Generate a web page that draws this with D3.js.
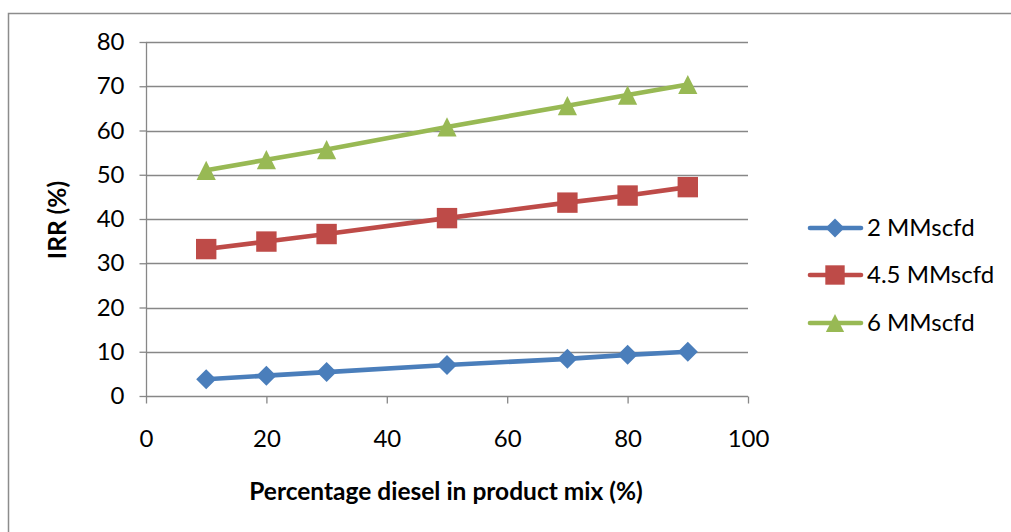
<!DOCTYPE html>
<html>
<head>
<meta charset="utf-8">
<script src="https://cdn.jsdelivr.net/npm/d3@7"></script>
<style>
  html, body { margin: 0; padding: 0; background: #fff; }
  svg { display: block; }
  text { font-family: Lato, "Open Sans", sans-serif; fill: #000; }
</style>
</head>
<body>
<svg id="chart" width="1011" height="532"></svg>
<script>
// Diesel share in product mix (%)
const dieselShare = [10, 20, 30, 50, 70, 80, 90];
// IRR (%) for each gas feed rate
const irr2 = [3.8, 4.6, 5.4, 7.0, 8.4, 9.3, 10.0];
const irr45 = [33.2, 34.9, 36.6, 40.2, 43.7, 45.3, 47.2];
const irr6 = [51.0, 53.4, 55.7, 60.8, 65.6, 68.0, 70.4];
const seriesNames = ["2 MMscfd", "4.5 MMscfd", "6 MMscfd"];
const xTicks = [0, 20, 40, 60, 80, 100];
const yTicks = [0, 10, 20, 30, 40, 50, 60, 70, 80];

// marker shapes: diamond (rotated square), square, isosceles triangle
const diamond = r => `M0,${-r}L${r},0L0,${r}L${-r},0Z`;
const square = r => `M${-r},${-r}H${r}V${r}H${-r}Z`;
const triangle = r => `M0,${-r}L${r},${r}H${-r}Z`;

const series = [
  { name: seriesNames[0], values: irr2, color: "#4a7ebb", shape: diamond, r: 10 },
  { name: seriesNames[1], values: irr45, color: "#be4b48", shape: square, r: 10.2 },
  { name: seriesNames[2], values: irr6, color: "#98b954", shape: triangle, r: 9.6 }
];

const svg = d3.select("#chart");
const plot = { left: 146, right: 748, top: 42, bottom: 396 };

const x = d3.scaleLinear().domain([0, 100]).range([plot.left, plot.right]);
const y = d3.scaleLinear().domain([0, 80]).range([plot.bottom, plot.top]);

// chart frame
svg.append("path")
  .attr("d", "M8.5,540 V13.5 H1020")
  .attr("fill", "none")
  .attr("stroke", "#8c8c8c")
  .attr("stroke-width", 1.5);

// horizontal gridlines
svg.append("g")
  .selectAll("line")
  .data(yTicks.filter(v => v > 0))
  .join("line")
  .attr("x1", plot.left).attr("x2", plot.right)
  .attr("y1", d => Math.round(y(d)) + 0.5)
  .attr("y2", d => Math.round(y(d)) + 0.5)
  .attr("stroke", "#878787")
  .attr("stroke-width", 1.3);

// axes
const yAxis = d3.axisLeft(y).tickValues(yTicks).tickSize(7).tickPadding(15);
const xAxis = d3.axisBottom(x).tickValues(xTicks).tickSize(7).tickPadding(26);

const gy = svg.append("g").attr("transform", `translate(${plot.left + 0.5},0)`).call(yAxis);
const gx = svg.append("g").attr("transform", `translate(0,${plot.bottom + 0.5})`).call(xAxis);

[gx, gy].forEach(g => {
  g.select(".domain").attr("stroke", "#878787").attr("stroke-width", 1.3);
  g.selectAll(".tick line").attr("stroke", "#878787").attr("stroke-width", 1.3);
  g.selectAll(".tick text")
    .attr("font-family", "Lato, 'Open Sans', sans-serif")
    .attr("font-size", 24)
    .attr("fill", "#000");
});
gy.select(".domain").attr("d", `M0,${plot.top}V${plot.bottom}`);
gx.select(".domain").attr("d", `M${plot.left},0H${plot.right}`);

// axis titles
svg.append("text")
  .attr("x", 446).attr("y", 500)
  .attr("text-anchor", "middle")
  .attr("font-size", 24.5)
  .attr("font-weight", "bold")
  .text("Percentage diesel in product mix (%)");

svg.append("text")
  .attr("transform", "translate(66,220) rotate(-90)")
  .attr("text-anchor", "middle")
  .attr("font-size", 24.5)
  .attr("font-weight", "bold")
  .text("IRR (%)");

// series lines and markers
const line = d3.line()
  .x((d, i) => x(dieselShare[i]))
  .y(d => y(d));

series.forEach(s => {
  svg.append("path")
    .datum(s.values)
    .attr("d", line)
    .attr("fill", "none")
    .attr("stroke", s.color)
    .attr("stroke-width", 4.6)
    .attr("stroke-linejoin", "round");
});

series.forEach(s => {
  svg.append("g")
    .selectAll("path")
    .data(s.values)
    .join("path")
    .attr("d", s.shape(s.r))
    .attr("transform", (d, i) => `translate(${x(dieselShare[i])},${y(d)})`)
    .attr("fill", s.color);
});

// legend
const legend = svg.append("g");
const legendY = [228, 275, 323];
series.forEach((s, i) => {
  const g = legend.append("g").attr("transform", `translate(0,${legendY[i]})`);
  g.append("line")
    .attr("x1", 810).attr("x2", 861)
    .attr("stroke", s.color)
    .attr("stroke-width", 4.6)
    .attr("stroke-linecap", "round");
  g.append("path")
    .attr("d", s.shape(s.r * 0.95))
    .attr("transform", "translate(835,0)")
    .attr("fill", s.color);
  g.append("text")
    .attr("x", 867).attr("y", 0)
    .attr("dy", "0.35em")
    .attr("font-size", 24)
    .text(s.name);
});
</script>
</body>
</html>
